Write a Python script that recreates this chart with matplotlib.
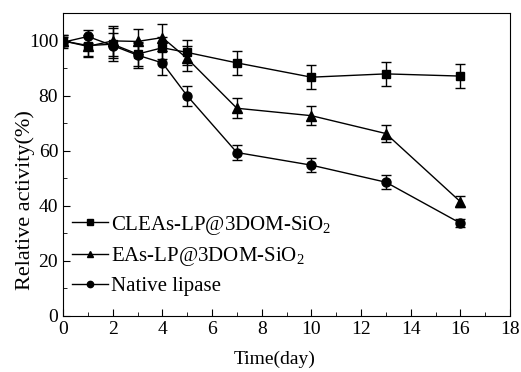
import matplotlib
matplotlib.use('Agg')
import matplotlib.pyplot as plt
from matplotlib.ticker import MultipleLocator

plt.rcParams['font.family'] = 'Liberation Serif'
plt.rcParams['mathtext.fontset'] = 'custom'
plt.rcParams['mathtext.rm'] = 'Liberation Serif'
plt.rcParams['mathtext.it'] = 'Liberation Serif'

days = [0, 1, 2, 3, 4, 5, 7, 10, 13, 16]

clea = [100, 98.3, 98.8, 95.2, 97.5, 95.8, 92, 86.8, 88, 87.2]
clea_err = [2, 4, 6, 4.5, 4, 4.5, 4.5, 4.3, 4.5, 4.3]

eas = [100, 98, 100, 99.8, 101.2, 93.6, 75.5, 72.8, 66.3, 41.5]
eas_err = [2, 3.5, 5.5, 4.5, 5, 4.5, 3.7, 3.5, 3, 2]

native = [99.5, 101.6, 98.3, 94.8, 92, 80, 59.4, 54.8, 48.6, 33.7]
native_err = [2, 2.5, 4.5, 4.5, 4.5, 3.7, 2.7, 2.5, 2.5, 1.5]

labels = ['CLEAs-LP@3DOM-SiO$_2$', 'EAs-LP@3DOM-SiO$_2$', 'Native lipase']

fig = plt.figure(figsize=(5.21, 3.72), dpi=100)
ax = fig.add_axes([0.121, 0.151, 0.858, 0.813])

ax.errorbar(days, clea, yerr=clea_err, color='k', marker='s', markersize=6,
            linewidth=1, elinewidth=1, capsize=3.5, capthick=1, label=labels[0])
ax.errorbar(days, eas, yerr=eas_err, color='k', marker='^', markersize=7,
            linewidth=1, elinewidth=1, capsize=3.5, capthick=1, label=labels[1])
ax.errorbar(days, native, yerr=native_err, color='k', marker='o', markersize=6.5,
            linewidth=1, elinewidth=1, capsize=3.5, capthick=1, label=labels[2])

ax.set_xlim(0, 18)
ax.set_ylim(0, 110)
ax.xaxis.set_major_locator(MultipleLocator(2))
ax.xaxis.set_minor_locator(MultipleLocator(1))
ax.yaxis.set_major_locator(MultipleLocator(20))
ax.yaxis.set_minor_locator(MultipleLocator(10))
ax.tick_params(which='both', direction='in', labelsize=14)
ax.tick_params(which='major', length=5)
ax.tick_params(which='minor', length=3)
ax.set_yticks([0, 20, 40, 60, 80, 100])

ax.set_xlabel('Time(day)', fontsize=14)
ax.set_ylabel('Relative activity(%)', fontsize=16)
ax.xaxis.set_label_coords(0.474, -0.115)
ax.yaxis.set_label_coords(-0.062, 0.383)

handles, labs = ax.get_legend_handles_labels()
handles = [h[0] for h in handles]
ax.legend(handles, labs, loc='lower left', bbox_to_anchor=(-0.021, 0.004),
          frameon=False, fontsize=15, handlelength=1.7, handletextpad=0.15,
          labelspacing=0.4, markerscale=0.7)

plt.savefig('out.png', dpi=100)
